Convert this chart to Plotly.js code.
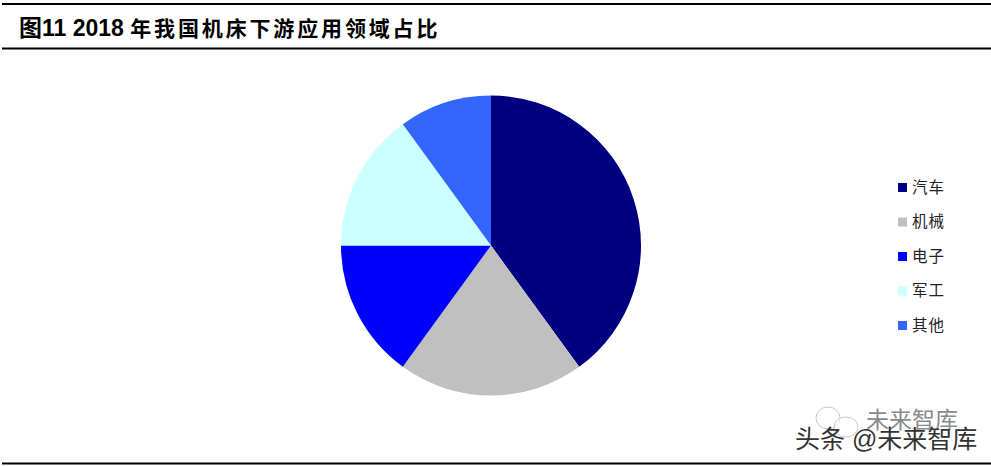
<!DOCTYPE html>
<html><head><meta charset="utf-8">
<script src="https://cdn.plot.ly/plotly-3.0.1.min.js"></script>
<style>html,body{margin:0;padding:0;background:#fff}</style></head>
<body><div id="chart" style="width:991px;height:466px"></div>
<script>
const categories = ["汽车","机械","电子","军工","其他"];
const shares = [40,20,15,15,10];
const colors = ["#000080","#C0C0C0","#0000FF","#CCFFFF","#3366FF"];
const titleLead = "图11 2018 ";
const titleRest = "年我国机床下游应用领域占比";
const watermarkMain = "头条 @未来智库";
const watermarkSub = "未来智库";

const W=991,H=466;
const px=x=>x/W, py=y=>1-y/H;
const cjk='"Liberation Sans","Noto Sans CJK SC",sans-serif';
const rule=y=>({type:'line',xref:'paper',yref:'paper',x0:px(2),x1:px(991),y0:py(y),y1:py(y),line:{color:'#000',width:1.8}});
const shapes=[rule(4),rule(48.5),rule(463.5)];
const annotations=[];
categories.forEach((c,i)=>{
  const yc=187.5+i*34.5;
  shapes.push({type:'rect',xref:'paper',yref:'paper',x0:px(898),x1:px(907),y0:py(yc+4.5),y1:py(yc-4.5),fillcolor:colors[i],line:{width:0}});
  annotations.push({xref:'paper',yref:'paper',x:px(910),y:py(yc-0.5),xanchor:'left',yanchor:'middle',showarrow:false,
    text:'<span style="letter-spacing:1px">'+c+'</span>',font:{family:cjk,size:15.5,color:'#222'}});
});
annotations.push({xref:'paper',yref:'paper',x:px(17),y:py(28),xanchor:'left',yanchor:'middle',showarrow:false,
  text:titleLead+'<span style="font-size:21px;letter-spacing:2.85px">'+titleRest+'</span>',font:{family:cjk,size:23,color:'#000',weight:700}});
annotations.push({xref:'paper',yref:'paper',x:px(911.5),y:py(420),xanchor:'center',yanchor:'middle',showarrow:false,text:watermarkSub,font:{family:cjk,size:23,color:'#8a8a8a'}});
annotations.push({xref:'paper',yref:'paper',x:px(886),y:py(439),xanchor:'center',yanchor:'middle',showarrow:false,text:watermarkMain,font:{family:cjk,size:25,color:'#333'}});
[[816,407,840,429],[834,417,858,437]].forEach(b=>shapes.push({type:'circle',xref:'paper',yref:'paper',x0:px(b[0]),x1:px(b[2]),y0:py(b[1]),y1:py(b[3]),line:{color:'#c8c8c8',width:1},fillcolor:'rgba(255,255,255,0.6)'}));

Plotly.newPlot('chart',[{type:'pie',labels:categories,values:shares,sort:false,direction:'clockwise',rotation:0,
  marker:{colors:colors,line:{width:0}},textinfo:'none',hoverinfo:'label+percent',
  domain:{x:[px(341),px(641)],y:[py(395.5),py(95.5)]}}],
 {width:W,height:H,margin:{l:0,r:0,t:0,b:0},paper_bgcolor:'#fff',showlegend:false,shapes,annotations},
 {displayModeBar:false,staticPlot:true});
</script></body></html>
